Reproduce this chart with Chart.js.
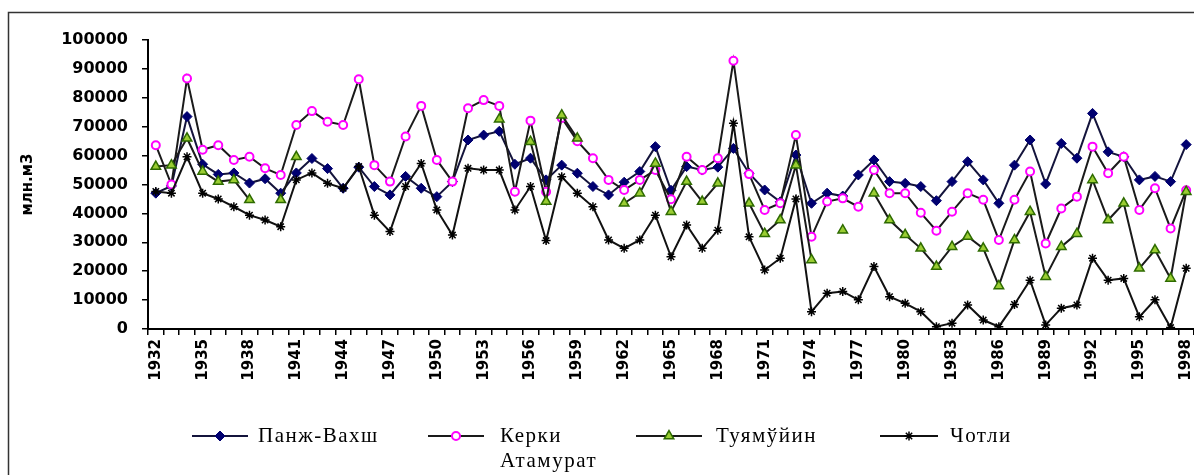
<!DOCTYPE html>
<html>
<head>
<meta charset="utf-8">
<script src="https://cdn.jsdelivr.net/npm/chart.js@4.4.1/dist/chart.umd.min.js"></script>
<style>
html, body { margin: 0; padding: 0; background: #fff; overflow: hidden; }
#wrap { width: 1194px; height: 475px; overflow: hidden; }
</style>
</head>
<body>
<div id="wrap"><canvas id="chart" width="1201" height="475"></canvas></div>
<script>
// years on the category axis
var years = [1932, 1933, 1934, 1935, 1936, 1937, 1938, 1939, 1940, 1941,
  1942, 1943, 1944, 1945, 1946, 1947, 1948, 1949, 1950, 1951,
  1952, 1953, 1954, 1955, 1956, 1957, 1958, 1959, 1960, 1961,
  1962, 1963, 1964, 1965, 1966, 1967, 1968, 1969, 1970, 1971,
  1972, 1973, 1974, 1975, 1976, 1977, 1978, 1979, 1980, 1981,
  1982, 1983, 1984, 1985, 1986, 1987, 1988, 1989, 1990, 1991,
  1992, 1993, 1994, 1995, 1996, 1997, 1998];

var panjVakhsh = [47000, 49500, 73500, 57000, 53500, 54000, 50500, 52000, 47000, 54000,
  59000, 55500, 48700, 56000, 49300, 46400, 52800, 48700, 45800, 51000,
  65400, 67100, 68400, 57000, 59100, 51600, 56700, 53900, 49300, 46400,
  50800, 54500, 63100, 48000, 56200, 55000, 56000, 62500, 53900, 48100,
  44000, 60200, 43500, 47000, 46000, 53300, 58500, 51000, 50400, 49300,
  44400, 51000, 57900, 51600, 43500, 56700, 65400, 50200, 64200, 59100,
  74600, 61300, 59600, 51600, 52800, 51000, 63800];

var kerkiAtamurat = [63600, 50000, 86700, 62000, 63600, 58500, 59600, 55600, 53300, 70600,
  75400, 71700, 70600, 86400, 56700, 51000, 66600, 77200, 58500, 51000,
  76400, 79200, 77200, 47500, 72100, 47500, 73000, 65000, 59100, 51600,
  48100, 51600, 55000, 44900, 59600, 55000, 59100, 92800, 53600, 41200,
  43500, 67100, 31900, 44100, 45200, 42300, 55000, 47000, 47000, 40200,
  34000, 40600, 47000, 44700, 30800, 44700, 54500, 29600, 41700, 45800,
  63100, 53900, 59600, 41200, 48700, 34800, 48000];

var tuyamuyin = [56200, 56700, 66000, 54500, 51000, 51600, 44700, null, 44700, 59600,
  null, null, null, null, null, null, null, null, null, null,
  null, null, 72600, null, 64800, 44100, 74000, 66000, null, null,
  43500, 47000, 57300, 40600, 51000, 44100, 50400, null, 43500, 33000,
  37700, 56700, 23900, null, 34200, null, 47000, 37700, 32600, 27900,
  21600, 28500, 32000, 27900, 14900, 30800, 40600, 18100, 28500, 33000,
  51600, 37700, 43500, 21000, 27300, 17500, 47500];

var chotli = [47600, 47000, 59600, 47000, 45000, 42300, 39400, 37700, 35400, 51600,
  54000, 50400, 48700, 56200, 39400, 33700, 49300, 57300, 41200, 32500,
  55600, 55000, 55000, 41200, 49300, 30600, 52700, 47000, 42300, 30800,
  27900, 30800, 39400, 25000, 36000, 27900, 34200, 71200, 31900, 20400,
  24500, 45000, 6000, 12400, 13000, 10100, 21600, 11200, 8900, 6000,
  800, 2000, 8300, 3100, 800, 8500, 16900, 1400, 7200, 8300,
  24500, 16900, 17500, 4200, 10100, 500, 21000];

var seriesNames = ['Панж-Вахш', 'Керки Атамурат', 'Туямўйин', 'Чотли'];
var yTitle = 'млн.м3';
var yMax = 100000;
var yStep = 10000;
var labelEvery = 3;

// frame round the whole chart (only left and top are inside the window)
var framePlugin = {
  id: 'frame',
  beforeDraw: function (chart) {
    var ctx = chart.ctx;
    ctx.save();
    ctx.fillStyle = '#fff';
    ctx.fillRect(0, 0, chart.width, chart.height);
    ctx.strokeStyle = '#333';
    ctx.lineWidth = 1.5;
    ctx.strokeRect(8.5, 12.5, 1300, 500);
    ctx.restore();
  }
};

// Excel-like legend under the axis: line sample, marker, text
var legendPlugin = {
  id: 'bottomLegend',
  afterDraw: function (chart) {
    var ctx = chart.ctx;
    var lineX = [[192, 248], [428, 484], [636, 702], [880, 938]];
    var textX = [258, 500, 716, 950];
    var y = 436;
    ctx.save();
    chart.data.datasets.forEach(function (ds, i) {
      var x0 = lineX[i][0], x1 = lineX[i][1];
      ctx.strokeStyle = ds.borderColor;
      ctx.lineWidth = 2;
      ctx.beginPath();
      ctx.moveTo(x0, y);
      ctx.lineTo(x1, y);
      ctx.stroke();
      if (Chart.helpers && Chart.helpers.drawPoint) {
        ctx.fillStyle = ds.pointBackgroundColor;
        ctx.strokeStyle = ds.pointBorderColor;
        ctx.lineWidth = ds.pointBorderWidth;
        Chart.helpers.drawPoint(ctx, {
          pointStyle: ds.pointStyle,
          radius: ds.pointRadius,
          borderWidth: ds.pointBorderWidth,
          rotation: 0
        }, (x0 + x1) / 2, y);
      }
      ctx.fillStyle = '#000';
      ctx.font = '21px "Liberation Serif"';
      if ('letterSpacing' in ctx) ctx.letterSpacing = '1.5px';
      ctx.textBaseline = 'middle';
      ctx.textAlign = 'left';
      ds.label.split(' ').forEach(function (part, k) {
        ctx.fillText(part, textX[i], y + k * 25);
      });
    });
    ctx.restore();
  }
};

var ctx = document.getElementById('chart');
var chart = new Chart(ctx, {
  type: 'line',
  data: {
    labels: years,
    datasets: [{
      label: seriesNames[0],
      data: panjVakhsh,
      borderColor: '#14143c',
      borderWidth: 2,
      pointStyle: 'rectRot',
      pointRadius: 5,
      pointBackgroundColor: '#000070',
      pointBorderColor: '#000070',
      pointBorderWidth: 1,
      order: 4
    }, {
      label: seriesNames[1],
      data: kerkiAtamurat,
      borderColor: '#1a1a1a',
      borderWidth: 2,
      pointStyle: 'circle',
      pointRadius: 4,
      pointBackgroundColor: '#ffffff',
      pointBorderColor: '#ff00ff',
      pointBorderWidth: 2,
      order: 3
    }, {
      label: seriesNames[2],
      data: tuyamuyin,
      borderColor: '#1a1a1a',
      borderWidth: 2,
      pointStyle: 'triangle',
      pointRadius: 5.5,
      pointBackgroundColor: '#9acd32',
      pointBorderColor: '#2e6b00',
      pointBorderWidth: 1.5,
      order: 2
    }, {
      label: seriesNames[3],
      data: chotli,
      borderColor: '#111111',
      borderWidth: 2,
      pointStyle: 'star',
      pointRadius: 4.5,
      pointBackgroundColor: '#000000',
      pointBorderColor: '#000000',
      pointBorderWidth: 1.5,
      order: 1
    }]
  },
  options: {
    responsive: false,
    animation: false,
    devicePixelRatio: 1,
    layout: { padding: { left: 19, top: 40, right: 0, bottom: 86 } },
    elements: { line: { tension: 0 } },
    plugins: {
      legend: { display: false },
      tooltip: { enabled: false }
    },
    scales: {
      x: {
        type: 'category',
        offset: true,
        afterFit: function (scale) {
          scale.height = 60;
          scale.paddingLeft = 0;
          scale.paddingRight = 0;
        },
        grid: {
          offset: true,
          drawOnChartArea: false,
          drawTicks: true,
          tickLength: 6,
          color: '#000',
          lineWidth: 1.5
        },
        border: { display: true, color: '#000', width: 2 },
        ticks: {
          autoSkip: false,
          maxRotation: 90,
          minRotation: 90,
          padding: 4,
          color: '#000',
          font: { family: 'DejaVu Sans', weight: 'bold', size: 15 },
          callback: function (val, i) {
            return i % labelEvery === 0 ? this.getLabelForValue(val) : '';
          }
        }
      },
      y: {
        min: 0,
        max: yMax,
        afterFit: function (scale) {
          scale.width = 129;
          scale.paddingTop = 0;
          scale.paddingBottom = 0;
        },
        grid: {
          drawOnChartArea: false,
          drawTicks: true,
          tickLength: 6,
          color: '#000',
          lineWidth: 1.5
        },
        border: { display: true, color: '#000', width: 2 },
        title: {
          display: true,
          text: yTitle,
          color: '#000',
          font: { family: 'DejaVu Sans', weight: 'bold', size: 15 },
          padding: { top: 0, bottom: 0 }
        },
        ticks: {
          stepSize: yStep,
          padding: 14,
          color: '#000',
          font: { family: 'DejaVu Sans', weight: 'bold', size: 16 },
          callback: function (val) { return String(val); }
        }
      }
    }
  },
  plugins: [framePlugin, legendPlugin]
});
</script>
</body>
</html>
